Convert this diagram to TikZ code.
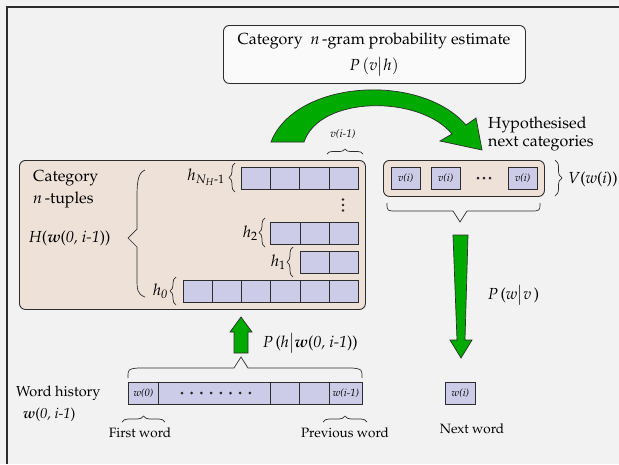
\documentclass[tikz,border=0pt]{standalone}
\usepackage[T1]{fontenc}
\usepackage{mathpazo}
\usepackage{amsmath}
\usetikzlibrary{decorations.pathreplacing}
\definecolor{bg}{RGB}{242,242,242}
\definecolor{tanc}{RGB}{238,225,216}
\definecolor{cellc}{RGB}{204,204,232}
\definecolor{grn}{RGB}{0,170,0}
\definecolor{ln}{RGB}{45,45,45}
\begin{document}
\begin{tikzpicture}[x=1pt,y=-1pt,
  txt/.style={font=\fontsize{16}{19}\selectfont, inner sep=0pt},
  smalltxt/.style={font=\fontsize{13.5}{15}\selectfont, inner sep=0pt},
  cellbox/.style={draw=ln, fill=cellc, line width=0.9pt, minimum width=29.2pt, minimum height=22pt, inner sep=0pt, anchor=north west, font=\fontsize{10.5}{12}\selectfont\itshape},
  brc/.style={draw=ln, line width=0.7pt, decorate, decoration={brace, amplitude=#1}},
  brc/.default=6pt,
  bigbrc/.style={draw=ln, line width=0.7pt},
  arrowshape/.style={fill=grn, draw=ln, line width=0.7pt, line join=miter},
  panel/.style={draw=ln, line width=0.9pt, rounded corners=6pt, anchor=north west, inner sep=0pt},
  dotmark/.style={fill=black!85}
]
\useasboundingbox (0,0) rectangle (619,464);
\fill[bg] (0,0) rectangle (619,464);
\draw[ln, line width=2pt] (7,464) -- (7,7) -- (619,7);

% top box
\node[panel, fill=bg!40!white, minimum width=302pt, minimum height=58pt] (topbox) at (223,25) {};
\node[txt, align=center, font=\fontsize{16}{26}\selectfont] (toptitle) at (374,55) {Category\ \ \textit{n}\,-gram probability estimate\\$P\,(v\big|h)$};

% curved arrow
\filldraw[arrowshape] (271,142) .. controls (295,80) and (420,72) .. (466,125) -- (476,118) -- (482,150) -- (440,141) -- (452,134) .. controls (420,95) and (320,95) .. (304,142) -- cycle;

\node[txt, anchor=west, align=left, font=\fontsize{16}{18}\selectfont] (hyp) at (488,134) {Hypothesised\\next categories};

% main box
\node[panel, fill=tanc, minimum width=346pt, minimum height=149pt] (mainbox) at (19,160) {};
\node[txt, anchor=north west, align=left, font=\fontsize{16}{22}\selectfont] (cat) at (33,170) {Category\\\textit{n}\,-tuples};
\node[txt, anchor=west] (Hlab) at (29,238) {\textit{H}(\textbf{\textit{w}}(\textit{0, i-1}))};
\draw[bigbrc] (145,170) .. controls (137,173) and (137,185) .. (137,200) -- (137,229) -- (128,238) -- (137,247) -- (137,276) .. controls (137,290) and (137,294) .. (145,297);

% rows
\foreach \i in {0,...,3} \node[cellbox] (ra\i) at ({241+29.2*\i},167) {};
\foreach \i in {0,...,2} \node[cellbox] (rb\i) at ({270.4+29.2*\i},222) {};
\foreach \i in {0,...,1} \node[cellbox] (rc\i) at ({299.6+29.2*\i},251) {};
\foreach \i in {0,...,5} \node[cellbox] (rd\i) at ({182.8+29.2*\i},280) {};
\foreach \k in {0,1,2} \fill[dotmark] (343,{199.5+5.5*\k}) circle (1.3pt);

\draw[brc=6pt] (235,192) -- (235,163);
\node[txt, anchor=east] (hN) at (225,177) {$h_{N_H\text{-}1}$};
\draw[brc=6pt] (265,247) -- (265,218);
\node[txt, anchor=east] (h2) at (258,233) {$h_2$};
\draw[brc=6pt] (293,277) -- (293,247);
\node[txt, anchor=east] (h1) at (286,262) {$h_1$};
\draw[brc=6pt] (176,305) -- (176,277);
\node[txt, anchor=east] (h0) at (168,291) {$h_{\mathit{0}}$};

% v(i-1)
\node[txt, font=\fontsize{11}{13}\selectfont\itshape] (vim1) at (343,134) {v(i-1)};
\draw[brc=5pt] (327,154) -- (363,154);

% right box
\node[panel, fill=tanc, minimum width=161pt, minimum height=36pt] (rightbox) at (383,160) {};
\node[cellbox] (v1) at (390.7,167) {v(i)};
\node[cellbox] (v2) at (430.7,167) {v(i)};
\node[cellbox] (v3) at (507.7,167) {v(i)};
\foreach \k in {0,1,2} \fill[dotmark] ({478+6*\k},178) circle (1.5pt);
\draw[brc=7pt] (555,160) -- (555,196);
\node[txt, anchor=west] (Vlab) at (568,179) {\textit{V}(\textit{w}(\textit{i}))};
\draw[bigbrc] (387,203) .. controls (387,211) .. (397,211) -- (453,211) -- (460,222) -- (467,211) -- (530,211) .. controls (540,211) .. (540,203);

% down arrow
\filldraw[arrowshape] (453,235) -- (468,235) -- (465,340) -- (472,340) -- (461,358) -- (450,340) -- (457,340) -- cycle;
\node[txt, anchor=west] (Pwv) at (488,295) {\textit{P}\,(\textit{w}$\big|$\textit{v}\,)};

% up arrow
\filldraw[arrowshape] (234,353) -- (234,332) -- (230,332) -- (241,317) -- (252,332) -- (248,332) -- (248,353) -- cycle;
\node[txt, anchor=west] (Phw) at (263,343) {\textit{P}\,(\textit{h}$\big|$\textbf{\textit{w}}(\textit{0, i-1}))};

% brace above word history
\draw[bigbrc] (128,378) .. controls (128,369) .. (138,368) -- (234,368) -- (241,357) -- (248,368) -- (352,368) .. controls (362,369) .. (362,378);

% word history cells
\node[cellbox, minimum width=30pt] (wh0) at (128,382) {w(0)};
\node[cellbox, minimum width=112pt] (whd) at (158,382) {};
\foreach \k in {0,...,7} \fill[dotmark] ({182+9.7*\k},393) circle (1.5pt);
\node[cellbox, minimum width=29pt] (wh3) at (270,382) {};
\node[cellbox, minimum width=30pt] (wh4) at (299,382) {};
\node[cellbox, minimum width=33pt] (wh5) at (329,382) {w(i-1)};

\node[txt, anchor=west, font=\fontsize{14.5}{17}\selectfont] (whlab) at (16,393) {Word history};
\node[txt, anchor=west, font=\fontsize{14.5}{17}\selectfont] (whw) at (23,415) {\textbf{\textit{w}}(\textit{0, i-1})};

\draw[brc=6pt] (122,422) -- (165,422);
\node[smalltxt] (first) at (140,433) {First word};
\draw[brc=6pt] (323,422) -- (367,422);
\node[smalltxt] (prev) at (345,433) {Previous word};

% next word
\node[cellbox, minimum width=30pt] (wi) at (445,382) {w(i)};
\node[smalltxt] (next) at (472,429) {Next word};
\end{tikzpicture}
\end{document}
